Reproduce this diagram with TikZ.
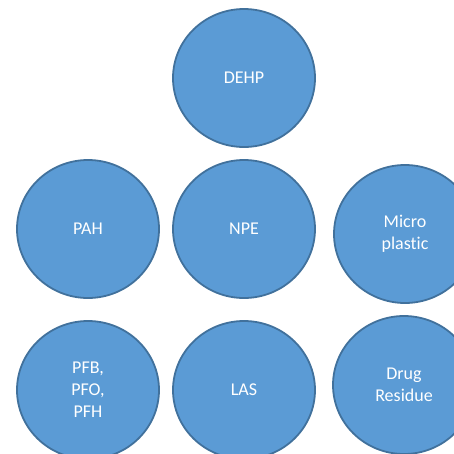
\documentclass[tikz,border=0pt]{standalone}
\usepackage{fontspec}
\setmainfont{Carlito}[Ligatures={NoCommon,NoRare}]
\usepackage{tikz}
\usetikzlibrary{shapes.geometric}
\usetikzlibrary{positioning}
\definecolor{bubblefill}{HTML}{5B9BD5}
\definecolor{bubbleline}{HTML}{41719C}
\tikzset{bubble/.style={ellipse,minimum width=142pt,minimum height=138pt,inner sep=0pt,fill=bubblefill,draw=bubbleline,line width=1.8pt,text=white,align=center,font=\fontsize{18}{22}\selectfont}}
\begin{document}
\begin{tikzpicture}[x=1pt,y=-1pt]
\useasboundingbox (0,0) rectangle (454,453);
\clip (0,0) rectangle (454,453);
\node (dehp) at (244,78) [bubble] {DEHP};
\node (pah) at (88,229) [bubble] {PAH};
\node (npe) at (244,229) [bubble] {NPE};
\node (micro) at (405,234) [bubble] {Micro\\plastic};
\node (pfb) at (88,390) [bubble] {PFB,\\PFO,\\PFH};
\node (las) at (244,390) [bubble] {LAS};
\node (drug) at (404,385) [bubble] {Drug\\Residue};
\end{tikzpicture}
\end{document}
